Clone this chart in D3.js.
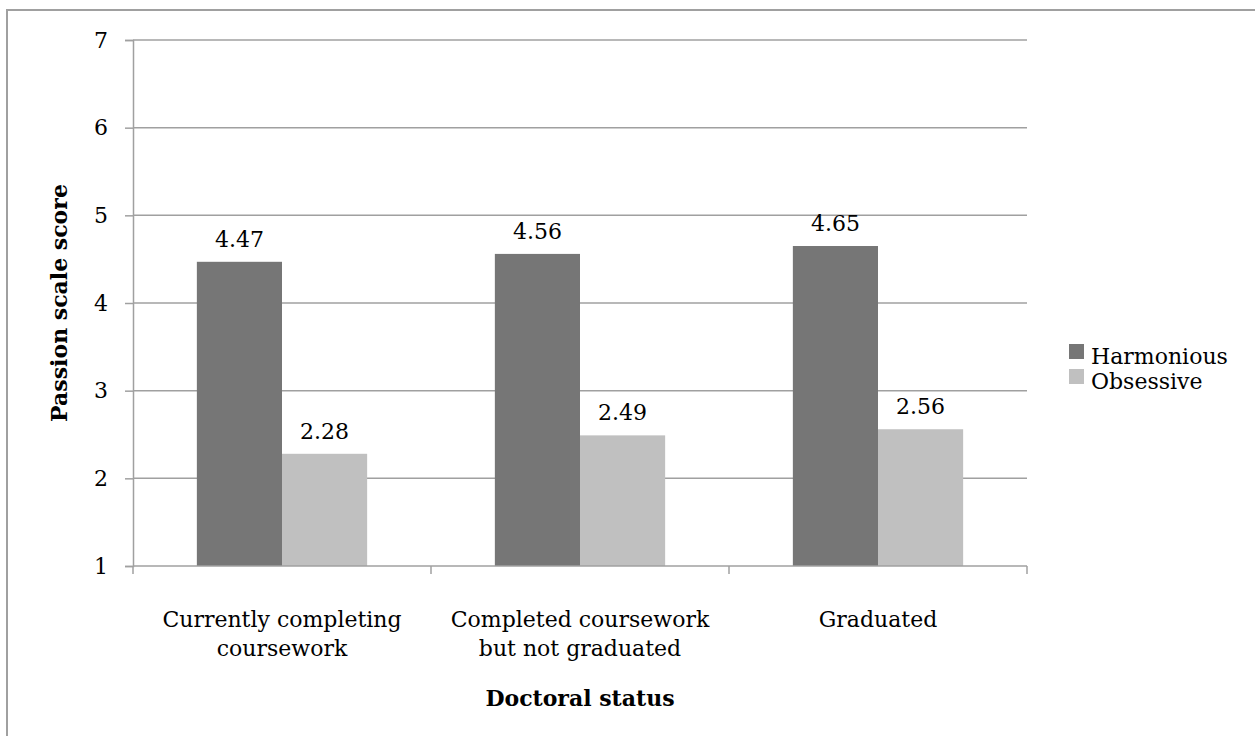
<!DOCTYPE html>
<html>
<head>
<meta charset="utf-8">
<script src="https://cdn.jsdelivr.net/npm/d3@7"></script>
<style>
  html, body { margin: 0; padding: 0; background: #fff; }
  svg { display: block; }
  text { font-family: "DejaVu Serif", "Liberation Serif", serif; fill: #000; }
</style>
</head>
<body>
<svg id="chart" width="1255" height="736"></svg>
<script>
// Passion scale scores by doctoral status
const categories = [
  ["Currently completing", "coursework"],
  ["Completed coursework", "but not graduated"],
  ["Graduated"]
];
const seriesNames = ["Harmonious", "Obsessive"];
const harmonious = [4.47, 4.56, 4.65];
const obsessive = [2.28, 2.49, 2.56];
const yTicks = [1, 2, 3, 4, 5, 6, 7];
const seriesColors = ["#767676", "#c0c0c0"];

const svg = d3.select("#chart");
const W = 1255, H = 736;
const plot = { left: 133, right: 1027, top: 40, bottom: 566 };
const fontSize = 22;
const fontFamily = '"DejaVu Serif", "Liberation Serif", serif';

// outer frame (top and left edges)
svg.append("path")
  .attr("d", `M7,${H} V10 H${W}`)
  .attr("fill", "none")
  .attr("stroke", "#a0a0a0")
  .attr("stroke-width", 2);

const catKeys = categories.map((c, i) => i);
const x0 = d3.scaleBand().domain(catKeys).range([plot.left, plot.right]).paddingInner(0).paddingOuter(0);
// gap width of 150% of one bar on the band
const x1 = d3.scaleBand().domain(seriesNames).range([0, x0.bandwidth()]).paddingInner(0).paddingOuter(0.75);
const y = d3.scaleLinear().domain([1, 7]).range([plot.bottom, plot.top]);

const gridColor = "#a0a0a0";

// y axis with tick marks
const yAxis = d3.axisLeft(y).tickValues(yTicks).tickSize(8).tickFormat(d3.format("d"));
const gy = svg.append("g").attr("transform", `translate(${plot.left},0)`).call(yAxis);
gy.attr("font-family", null).attr("font-size", null);
gy.select(".domain").attr("stroke", gridColor).attr("stroke-width", 1.5);
gy.selectAll(".tick line").attr("stroke", gridColor).attr("stroke-width", 1.5);
gy.selectAll(".tick text")
  .attr("x", -25)
  .attr("fill", "#000")
  .style("font-size", fontSize + "px")
  .style("font-family", fontFamily);

// horizontal gridlines
svg.append("g").selectAll("line")
  .data(yTicks.filter(d => d > 1))
  .join("line")
  .attr("x1", plot.left).attr("x2", plot.right)
  .attr("y1", d => y(d)).attr("y2", d => y(d))
  .attr("stroke", gridColor).attr("stroke-width", 1.5);

// bars
const rows = catKeys.map(i => ({ i, values: [harmonious[i], obsessive[i]] }));
const groups = svg.append("g").selectAll("g")
  .data(rows)
  .join("g")
  .attr("transform", d => `translate(${x0(d.i)},0)`);

groups.selectAll("rect")
  .data(d => d.values.map((v, k) => ({ name: seriesNames[k], v, k })))
  .join("rect")
  .attr("x", d => x1(d.name))
  .attr("y", d => y(d.v))
  .attr("width", x1.bandwidth())
  .attr("height", d => y(1) - y(d.v))
  .attr("fill", d => seriesColors[d.k]);

// value labels
groups.selectAll("text.val")
  .data(d => d.values.map((v, k) => ({ name: seriesNames[k], v, k })))
  .join("text")
  .attr("class", "val")
  .attr("x", d => x1(d.name) + x1.bandwidth() / 2)
  .attr("y", d => y(d.v) - 15)
  .attr("text-anchor", "middle")
  .style("font-size", fontSize + "px")
  .text(d => d.v.toFixed(2));

// x axis line with category boundary ticks
const xBounds = catKeys.map(i => x0(i)).concat([plot.right]);
svg.append("line")
  .attr("x1", plot.left).attr("x2", plot.right)
  .attr("y1", plot.bottom).attr("y2", plot.bottom)
  .attr("stroke", gridColor).attr("stroke-width", 1.5);
svg.append("g").selectAll("line")
  .data(xBounds)
  .join("line")
  .attr("x1", d => d).attr("x2", d => d)
  .attr("y1", plot.bottom).attr("y2", plot.bottom + 8)
  .attr("stroke", gridColor).attr("stroke-width", 1.5);

// category labels
svg.append("g").selectAll("text")
  .data(rows)
  .join("text")
  .attr("x", d => x0(d.i) + x0.bandwidth() / 2)
  .attr("y", 627)
  .attr("text-anchor", "middle")
  .style("font-size", fontSize + "px")
  .selectAll("tspan")
  .data(d => categories[d.i])
  .join("tspan")
  .attr("x", function() { return this.parentNode.getAttribute("x"); })
  .attr("dy", (d, k) => k === 0 ? 0 : 29)
  .text(d => d);

// axis titles
svg.append("text")
  .attr("x", (plot.left + plot.right) / 2)
  .attr("y", 706)
  .attr("text-anchor", "middle")
  .style("font-size", fontSize + "px")
  .style("font-weight", "bold")
  .text("Doctoral status");

svg.append("text")
  .attr("transform", `translate(67,${(plot.top + plot.bottom) / 2}) rotate(-90)`)
  .attr("text-anchor", "middle")
  .style("font-size", fontSize + "px")
  .style("font-weight", "bold")
  .text("Passion scale score");

// legend
const legend = svg.append("g").attr("transform", "translate(1069,344)");
const li = legend.selectAll("g")
  .data(seriesNames)
  .join("g")
  .attr("transform", (d, k) => `translate(0,${k * 25})`);
li.append("rect")
  .attr("width", 15).attr("height", 15)
  .attr("fill", (d, k) => seriesColors[k]);
li.append("text")
  .attr("x", 22)
  .attr("y", 20)
  .style("font-size", fontSize + "px")
  .text(d => d);
</script>
</body>
</html>
